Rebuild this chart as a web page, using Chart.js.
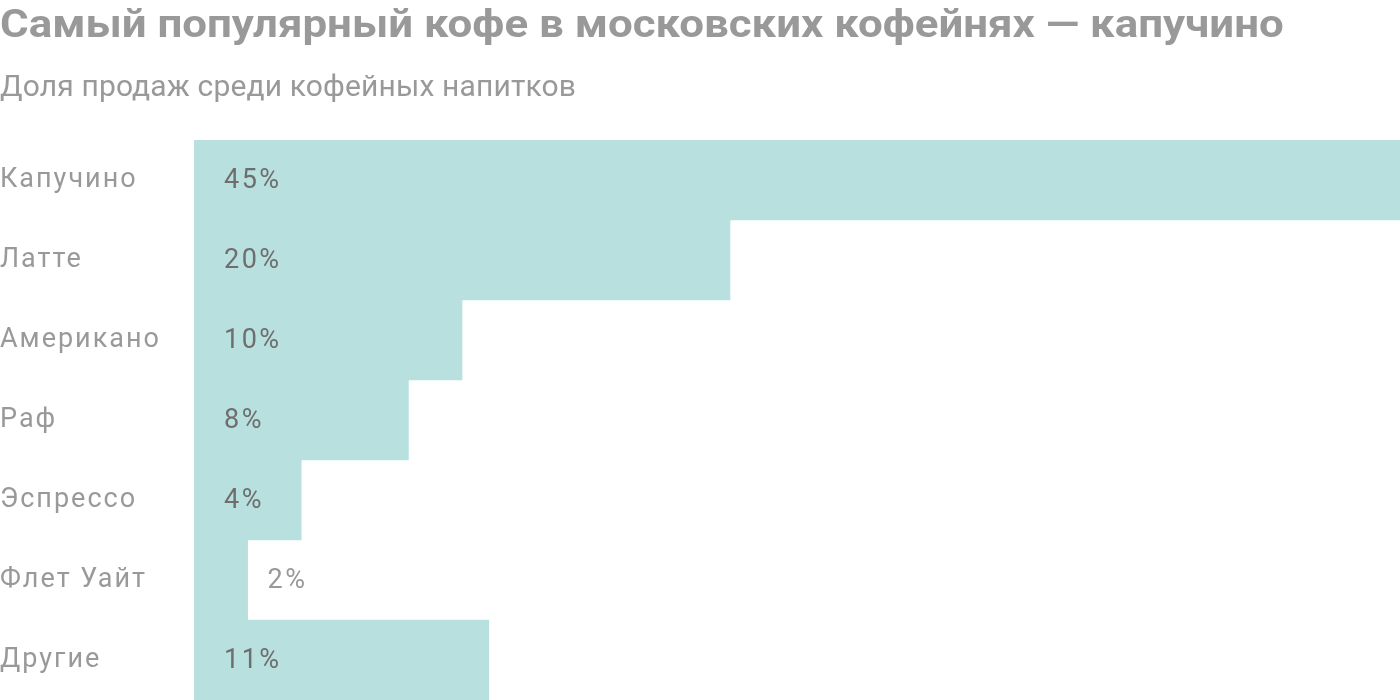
<!DOCTYPE html>
<html><head><meta charset="utf-8">
<script src="https://cdn.jsdelivr.net/npm/chart.js@4"></script>
<style>
html,body{margin:0;padding:0;background:#fff;width:1400px;height:700px;overflow:hidden;font-family:Roboto,sans-serif;}
#title{position:absolute;left:0;top:1px;font-size:39px;font-weight:700;color:#999;white-space:nowrap;line-height:46px;transform:scaleX(1.124);transform-origin:0 0;}
#sub{position:absolute;left:0;top:68px;font-size:30px;color:#999;white-space:nowrap;line-height:36px;letter-spacing:0.15px;}
#wrap{position:absolute;left:0;top:0;width:1400px;height:700px;}
</style></head><body>
<div id="wrap"><canvas id="c"></canvas></div>
<div id="title">Самый популярный кофе в московских кофейнях — капучино</div>
<div id="sub">Доля продаж среди кофейных напитков</div>
<script>
const categories = ["Капучино","Латте","Американо","Раф","Эспрессо","Флет Уайт","Другие"];
const shares = [45,20,10,8,4,2,11];
const valueLabels = ["45%","20%","10%","8%","4%","2%","11%"];

const spacingPlugin = {
  id:'spacingPlugin',
  beforeDraw(chart){ chart.ctx.letterSpacing='2px'; }
};
const valuePlugin = {
  id:'valuePlugin',
  afterDatasetsDraw(chart){
    const ctx=chart.ctx; const meta=chart.getDatasetMeta(0); const left=chart.chartArea.left;
    ctx.save(); ctx.font='27px Roboto'; ctx.letterSpacing='2.5px'; ctx.textBaseline='middle'; ctx.textAlign='left';
    meta.data.forEach((bar,i)=>{
      const t=valueLabels[i]; const w=ctx.measureText(t).width;
      let x=left+30, col='#6e6e6e';
      if(bar.x-x < w+8){ x=bar.x+20; col='#999'; }
      ctx.fillStyle=col; ctx.fillText(t,x,bar.y+1);
    });
    ctx.restore();
  }
};

new Chart(document.getElementById('c'),{
  type:'bar',
  data:{labels:categories,datasets:[{data:shares,backgroundColor:'#b7e0de',borderWidth:0,barPercentage:1,categoryPercentage:1}]},
  options:{
    indexAxis:'y',responsive:true,maintainAspectRatio:false,animation:false,
    layout:{padding:{top:140,left:0,right:0,bottom:0}},
    plugins:{legend:{display:false},tooltip:{enabled:false}},
    scales:{
      x:{display:false,min:0,max:45},
      y:{grid:{display:false},border:{display:false},
         afterFit(s){s.width=194;s.paddingTop=0;s.paddingBottom=0;},
         ticks:{crossAlign:'far',padding:0,color:'#999',font:{family:'Roboto',size:27}}}
    }
  },
  plugins:[spacingPlugin,valuePlugin]
});
</script></body></html>
